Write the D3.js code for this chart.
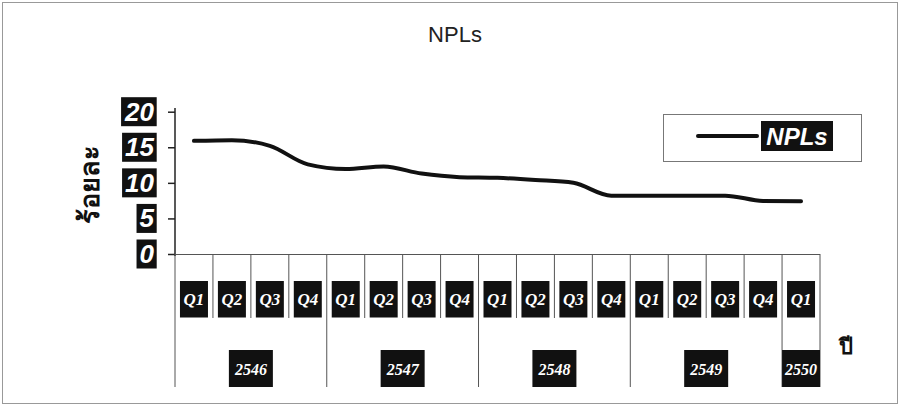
<!DOCTYPE html>
<html>
<head>
<meta charset="utf-8">
<script src="https://cdn.jsdelivr.net/npm/d3@7"></script>
<style>
  html, body { margin: 0; padding: 0; background: #fff; }
  svg { display: block; }
</style>
</head>
<body>
<svg id="chart" width="900" height="407"></svg>
<script>
// ---- data ----
const years = ["2546", "2547", "2548", "2549", "2550"];
const quartersPerYear = [4, 4, 4, 4, 1];
const quarterLabels = ["Q1","Q2","Q3","Q4","Q1","Q2","Q3","Q4","Q1","Q2","Q3","Q4","Q1","Q2","Q3","Q4","Q1"];
const nplValues = [15.9, 16.0, 15.2, 12.6, 11.95, 12.3, 11.3, 10.8, 10.7, 10.4, 10.0, 8.2, 8.2, 8.2, 8.2, 7.45, 7.4];
const yTicks = [0, 5, 10, 15, 20];
const title = "NPLs";
const yTitle = "ร้อยละ";
const xTitle = "ปี";
const seriesName = "NPLs";

// categories built from the arrays above
const categories = quarterLabels.map((q, i) => i);
const yearOfCategory = [];
years.forEach((y, yi) => { for (let k = 0; k < quartersPerYear[yi]; k++) yearOfCategory.push(yi); });

const svg = d3.select("#chart");
const W = 900, H = 407;

// outer frame
svg.append("rect").attr("x", 2.5).attr("y", 2.5).attr("width", W - 5).attr("height", H - 6)
  .attr("fill", "none").attr("stroke", "#999").attr("stroke-width", 1);

const x = d3.scaleBand().domain(categories).range([175, 820]).padding(0);
const y = d3.scaleLinear().domain([0, 20]).range([254, 111.7]);

const sans = "'Liberation Sans', Arial, sans-serif";
const serif = "'Liberation Serif', 'Times New Roman', serif";

// title
svg.append("text").attr("x", 455).attr("y", 42).attr("text-anchor", "middle")
  .attr("font-family", sans).attr("font-size", 22).attr("fill", "#222").text(title);

// y axis
const yAxis = d3.axisLeft(y).tickValues(yTicks).tickSize(7).tickFormat("");
const gy = svg.append("g").attr("transform", "translate(175,0)").call(yAxis);
gy.select(".domain").attr("stroke", "#222").attr("stroke-width", 1.5).attr("d", "M0,108V256");
gy.selectAll(".tick line").attr("stroke", "#222").attr("stroke-width", 1.5);

// y tick labels in black boxes
const yLab = svg.append("g");
yTicks.forEach(v => {
  const g = yLab.append("g");
  const t = g.append("text").attr("x", 154).attr("y", y(v)).attr("text-anchor", "end")
    .attr("dominant-baseline", "central")
    .attr("font-family", sans).attr("font-weight", "bold").attr("font-style", "italic")
    .attr("font-size", 26).attr("fill", "#fff").text(v);
  const bb = t.node().getBBox();
  g.insert("rect", "text").attr("x", bb.x - 3).attr("y", y(v) - 14.5)
    .attr("width", 156.7 - (bb.x - 3)).attr("height", 29).attr("fill", "#111");
});

// y title
svg.append("text").attr("transform", "translate(99,184) rotate(-90)").attr("text-anchor", "middle")
  .attr("font-family", "'Noto Sans', 'DejaVu Sans', sans-serif").attr("font-weight", "bold")
  .attr("font-size", 27).attr("fill", "#111").text(yTitle);

// x axis: horizontal line
svg.append("line").attr("x1", 175).attr("x2", 820).attr("y1", 254.5).attr("y2", 254.5)
  .attr("stroke", "#555").attr("stroke-width", 1.2);

// category boundary lines
const boundaries = categories.map(c => x(c)).concat([x.range()[1]]);
boundaries.forEach((bx, i) => {
  const isYearEdge = i === 0 || i === boundaries.length - 1 || yearOfCategory[i] !== yearOfCategory[i - 1];
  svg.append("line").attr("x1", bx).attr("x2", bx).attr("y1", 254).attr("y2", isYearEdge ? 387 : 318)
    .attr("stroke", "#555").attr("stroke-width", 1);
});

// quarter labels
categories.forEach(c => {
  const cx = x(c) + x.bandwidth() / 2;
  svg.append("rect").attr("x", cx - 14).attr("y", 281).attr("width", 28).attr("height", 36.5).attr("fill", "#111");
  svg.append("text").attr("x", cx).attr("y", 299.5).attr("text-anchor", "middle").attr("dominant-baseline", "central")
    .attr("font-family", serif).attr("font-weight", "bold").attr("font-style", "italic")
    .attr("font-size", 17).attr("fill", "#fff").text(quarterLabels[c]);
});

// year labels
years.forEach((yr, yi) => {
  const idx = categories.filter(c => yearOfCategory[c] === yi);
  const x0 = x(idx[0]), x1 = x(idx[idx.length - 1]) + x.bandwidth();
  const cx = (x0 + x1) / 2;
  const bw = Math.min(44, x1 - x0);
  svg.append("rect").attr("x", cx - bw / 2).attr("y", 350).attr("width", bw).attr("height", 37).attr("fill", "#111");
  svg.append("text").attr("x", cx).attr("y", 369).attr("text-anchor", "middle").attr("dominant-baseline", "central")
    .attr("font-family", serif).attr("font-weight", "bold").attr("font-style", "italic")
    .attr("font-size", 16).attr("fill", "#fff").text(yr);
});

// x title
svg.append("text").attr("x", 846).attr("y", 354).attr("text-anchor", "middle")
  .attr("font-family", "'Noto Sans', 'DejaVu Sans', sans-serif").attr("font-weight", "bold")
  .attr("font-size", 22).attr("fill", "#111").text(xTitle);

// line
const line = d3.line()
  .x((d, i) => x(categories[i]) + x.bandwidth() / 2)
  .y(d => y(d))
  .curve(d3.curveMonotoneX);
svg.append("path").datum(nplValues).attr("d", line).attr("fill", "none")
  .attr("stroke", "#111").attr("stroke-width", 4).attr("stroke-linecap", "round").attr("stroke-linejoin", "round");

// legend
const lg = svg.append("g");
lg.append("rect").attr("x", 663.5).attr("y", 114.5).attr("width", 198).attr("height", 47)
  .attr("fill", "#fff").attr("stroke", "#777").attr("stroke-width", 1);
lg.append("line").attr("x1", 698).attr("x2", 757).attr("y1", 136).attr("y2", 136)
  .attr("stroke", "#111").attr("stroke-width", 4).attr("stroke-linecap", "round");
lg.append("rect").attr("x", 761).attr("y", 121).attr("width", 72).attr("height", 30).attr("fill", "#111");
lg.append("text").attr("x", 797).attr("y", 136).attr("text-anchor", "middle").attr("dominant-baseline", "central")
  .attr("font-family", sans).attr("font-weight", "bold").attr("font-style", "italic")
  .attr("font-size", 24).attr("fill", "#fff").text(seriesName);
</script>
</body>
</html>
